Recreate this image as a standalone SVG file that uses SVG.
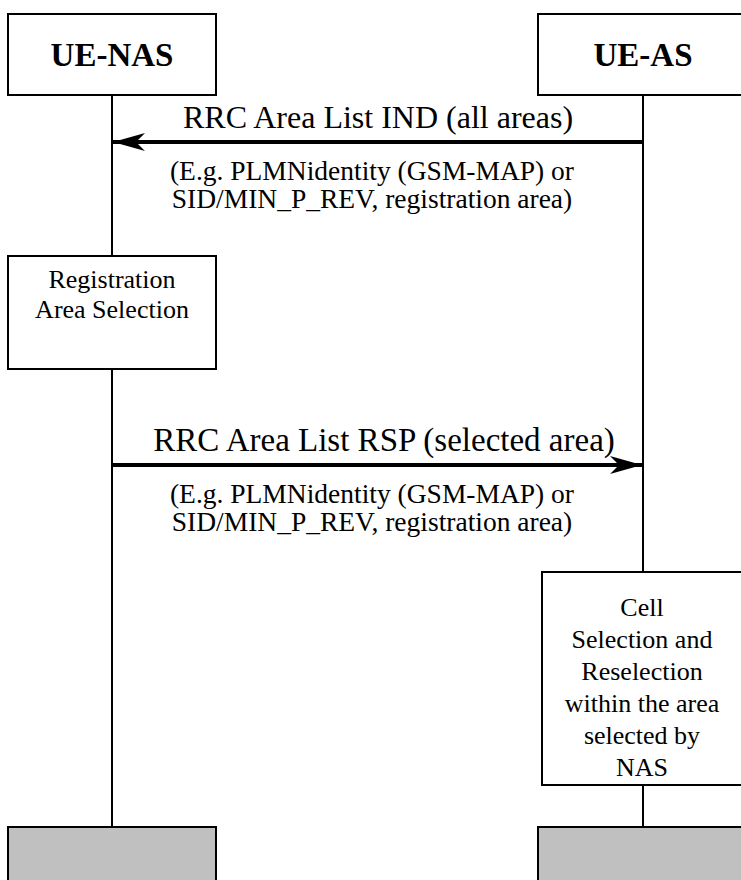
<svg xmlns="http://www.w3.org/2000/svg" width="741" height="880" viewBox="0 0 741 880">
<defs>
<style>
.box{fill:#fff;stroke:#000;stroke-width:2}
.grey{fill:#c0c0c0;stroke:#000;stroke-width:2}
.life{stroke:#000;stroke-width:2;fill:none}
.msg{stroke:#000;stroke-width:4;fill:none}
.t{font-family:"Liberation Serif","Times New Roman",serif;fill:#000}
.title{font-size:33px;font-weight:bold;text-anchor:middle}
.lbl{font-size:32px;text-anchor:middle}
.sub{font-size:27.5px;text-anchor:middle}
.bt{font-size:26px;text-anchor:middle}
</style>
<marker id="ah" markerUnits="userSpaceOnUse" viewBox="0 0 32 18" refX="32" refY="9" markerWidth="32" markerHeight="18" orient="auto">
<path d="M0,0 L32,9 L0,18 L9,9 Z" fill="#000"/>
</marker>
</defs>
<g id="connectors">
<line class="life" x1="112" y1="95" x2="112" y2="256"/>
<line class="life" x1="112" y1="369" x2="112" y2="827"/>
<line class="life" x1="643" y1="95" x2="643" y2="572"/>
<line class="life" x1="643" y1="785" x2="643" y2="827"/>
<line class="msg" x1="643" y1="142" x2="113" y2="142" marker-end="url(#ah)"/>
<line class="msg" x1="112" y1="465" x2="642" y2="465" marker-end="url(#ah)"/>
<text class="t lbl" x="378" y="128">RRC Area List IND (all areas)</text>
<text class="t sub" x="372" y="180">(E.g. PLMNidentity (GSM-MAP) or</text>
<text class="t sub" x="372" y="208">SID/MIN_P_REV, registration area)</text>
<text class="t lbl" x="384" y="451" style="font-size:33px">RRC Area List RSP (selected area)</text>
<text class="t sub" x="372" y="503">(E.g. PLMNidentity (GSM-MAP) or</text>
<text class="t sub" x="372" y="531">SID/MIN_P_REV, registration area)</text>
</g>
<g id="ue-nas">
<rect class="box" x="8" y="14" width="208" height="81"/>
<text class="t title" x="112" y="66">UE-NAS</text>
</g>
<g id="ue-as">
<rect class="box" x="538" y="14" width="210" height="81"/>
<text class="t title" x="643" y="66">UE-AS</text>
</g>
<g id="reg-area-selection">
<rect class="box" x="8" y="256" width="208" height="113"/>
<text class="t bt" x="112" y="288">Registration</text>
<text class="t bt" x="112" y="318">Area Selection</text>
</g>
<g id="cell-selection">
<rect class="box" x="542" y="572" width="206" height="213"/>
<text class="t bt" x="642" y="616">Cell</text>
<text class="t bt" x="642" y="648">Selection and</text>
<text class="t bt" x="642" y="680">Reselection</text>
<text class="t bt" x="642" y="712">within the area</text>
<text class="t bt" x="642" y="744">selected by</text>
<text class="t bt" x="642" y="776">NAS</text>
</g>
<g id="nas-end">
<rect class="grey" x="8" y="827" width="208" height="60"/>
</g>
<g id="as-end">
<rect class="grey" x="538" y="827" width="210" height="60"/>
</g>
</svg>
